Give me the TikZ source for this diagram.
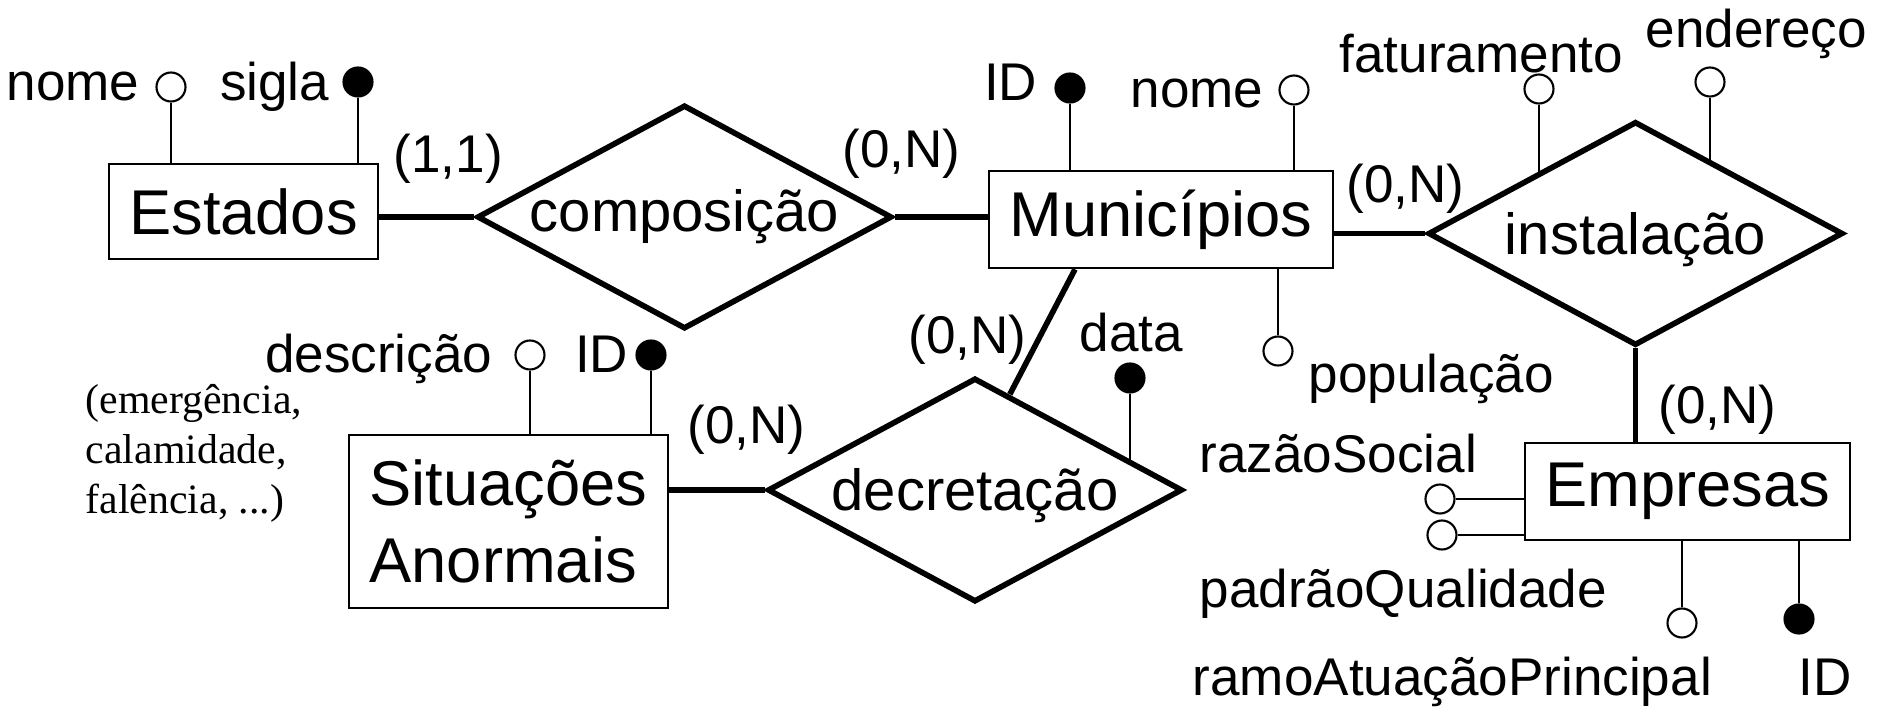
\documentclass[tikz,border=0pt]{standalone}
\usepackage{fontspec}
\setmainfont{Liberation Sans}
\newfontfamily\notafont{Liberation Serif}
\usetikzlibrary{shapes.geometric}
\pgfdeclarelayer{background}
\pgfsetlayers{background,main}

\begin{document}
\begin{tikzpicture}[
  entidade/.style={draw, line width=0.75pt, fill=white, inner sep=0pt, font=\fontsize{18}{22}\selectfont},
  relacao/.style={draw, diamond, aspect=1.85, line width=1.6pt, fill=white, inner sep=0pt, minimum width=4.15cm, minimum height=2.24cm, font=\fontsize{16.5}{20}\selectfont},
  baixo/.style={text height=0.53cm, text depth=0.12cm},
  atrib/.style={draw, circle, line width=0.6pt, fill=white, minimum size=0.29cm, inner sep=0pt},
  chave/.style={atrib, fill=black},
  rotulo/.style={inner sep=0pt, font=\fontsize{15.1}{18}\selectfont},
  liga/.style={line width=1.6pt},
  haste/.style={line width=0.75pt}
]
\useasboundingbox (0,0) rectangle (18.78,-7.07);

\node[entidade, minimum width=2.69cm, minimum height=0.95cm] (est) at (2.435,-2.115) {Estados};
\node[relacao] (comp) at (6.845,-2.17) {composição};
\node[entidade, minimum width=3.44cm, minimum height=0.97cm] (mun) at (11.61,-2.195) {Municípios};
\node[relacao, baixo] (inst) at (16.355,-2.335) {instalação};
\node[entidade, minimum width=3.25cm, minimum height=0.97cm] (emp) at (16.875,-4.915) {Empresas};
\node[relacao, baixo] (decr) at (9.75,-4.90) {decretação};
\node[entidade, align=left, minimum width=3.19cm, minimum height=1.73cm] (sa) at (5.085,-5.215) {Situações\\Anormais};

\node[atrib] (estNome) at (1.71,-0.87) {};
\node[chave] (estSigla) at (3.58,-0.82) {};
\node[chave] (munId) at (10.70,-0.88) {};
\node[atrib] (munNome) at (12.94,-0.90) {};
\node[atrib] (munPop) at (12.78,-3.51) {};
\node[atrib] (instFat) at (15.39,-0.89) {};
\node[atrib] (instEnd) at (17.10,-0.82) {};
\node[chave] (decrData) at (11.30,-3.78) {};
\node[atrib] (saDesc) at (5.30,-3.55) {};
\node[chave] (saId) at (6.51,-3.55) {};
\node[atrib] (empRazao) at (14.40,-4.99) {};
\node[atrib] (empPadrao) at (14.42,-5.35) {};
\node[atrib] (empRamo) at (16.82,-6.23) {};
\node[chave] (empId) at (17.99,-6.19) {};

\node[rotulo, anchor=base east] (tEstNome) at (1.40,-1.00) {nome};
\node[rotulo, anchor=base east] (tEstSigla) at (3.30,-1.00) {sigla};
\node[rotulo, anchor=base west] (cEst) at (3.93,-1.72) {(1,1)};
\node[rotulo, anchor=base west] (cMunComp) at (8.42,-1.68) {(0,N)};
\node[rotulo, anchor=base east] (tMunId) at (10.38,-1.00) {ID};
\node[rotulo, anchor=base east] (tMunNome) at (12.64,-1.07) {nome};
\node[rotulo, anchor=base west] (tInstFat) at (13.39,-0.72) {faturamento};
\node[rotulo, anchor=base west] (tInstEnd) at (16.45,-0.47) {endereço};
\node[rotulo, anchor=base west] (cMunInst) at (13.46,-2.02) {(0,N)};
\node[rotulo, anchor=base west] (tMunPop) at (13.08,-3.92) {população};
\node[rotulo, anchor=base west] (tDecrData) at (10.79,-3.51) {data};
\node[rotulo, anchor=base west] (cMunDecr) at (9.08,-3.53) {(0,N)};
\node[rotulo, anchor=base west] (cSaDecr) at (6.87,-4.43) {(0,N)};
\node[rotulo, anchor=base east] (tSaDesc) at (4.93,-3.72) {descrição};
\node[rotulo, anchor=base east] (tSaId) at (6.29,-3.72) {ID};
\node[rotulo, anchor=base west] (tEmpRazao) at (11.99,-4.72) {razãoSocial};
\node[rotulo, anchor=base west] (tEmpPadrao) at (11.99,-6.07) {padrãoQualidade};
\node[rotulo, anchor=base west] (tEmpRamo) at (11.92,-6.95) {ramoAtuaçãoPrincipal};
\node[rotulo, anchor=base west] (tEmpId) at (17.98,-6.95) {ID};
\node[rotulo, anchor=base west] (cEmpInst) at (16.58,-4.23) {(0,N)};
\node[anchor=north west, inner sep=0pt, align=left, font=\notafont\fontsize{11.9}{14.2}\selectfont] (nota) at (0.85,-3.84) {(emergência,\\calamidade,\\falência, ...)};

\begin{pgfonlayer}{background}
\draw[liga] (comp.west -| est.east) -- (comp.west);
\draw[liga] (comp.east) -- (comp.east -| mun.west);
\draw[liga] (inst.west -| mun.east) -- (inst.west);
\draw[liga] (inst.south) -- (inst.south |- emp.north);
\draw[liga] (decr.west -| sa.east) -- (decr.west);
\draw[liga] ([xshift=-8.6mm]mun.south) -- (decr.70);
\draw[haste] (estNome) -- (estNome |- est.north);
\draw[haste] (estSigla) -- (estSigla |- est.north);
\draw[haste] (munId) -- (munId |- mun.north);
\draw[haste] (munNome) -- (munNome |- mun.north);
\draw[haste] (munPop) -- (munPop |- mun.south);
\draw[haste] (instFat) -- (instFat |- inst.center);
\draw[haste] (instEnd) -- (instEnd |- inst.center);
\draw[haste] (decrData) -- (decrData |- decr.center);
\draw[haste] (saDesc) -- (saDesc |- sa.north);
\draw[haste] (saId) -- (saId |- sa.north);
\draw[haste] (empRazao) -- (empRazao -| emp.west);
\draw[haste] (empPadrao) -- (empPadrao -| emp.west);
\draw[haste] (empRamo) -- (empRamo |- emp.south);
\draw[haste] (empId) -- (empId |- emp.south);
\end{pgfonlayer}
\end{tikzpicture}
\end{document}
